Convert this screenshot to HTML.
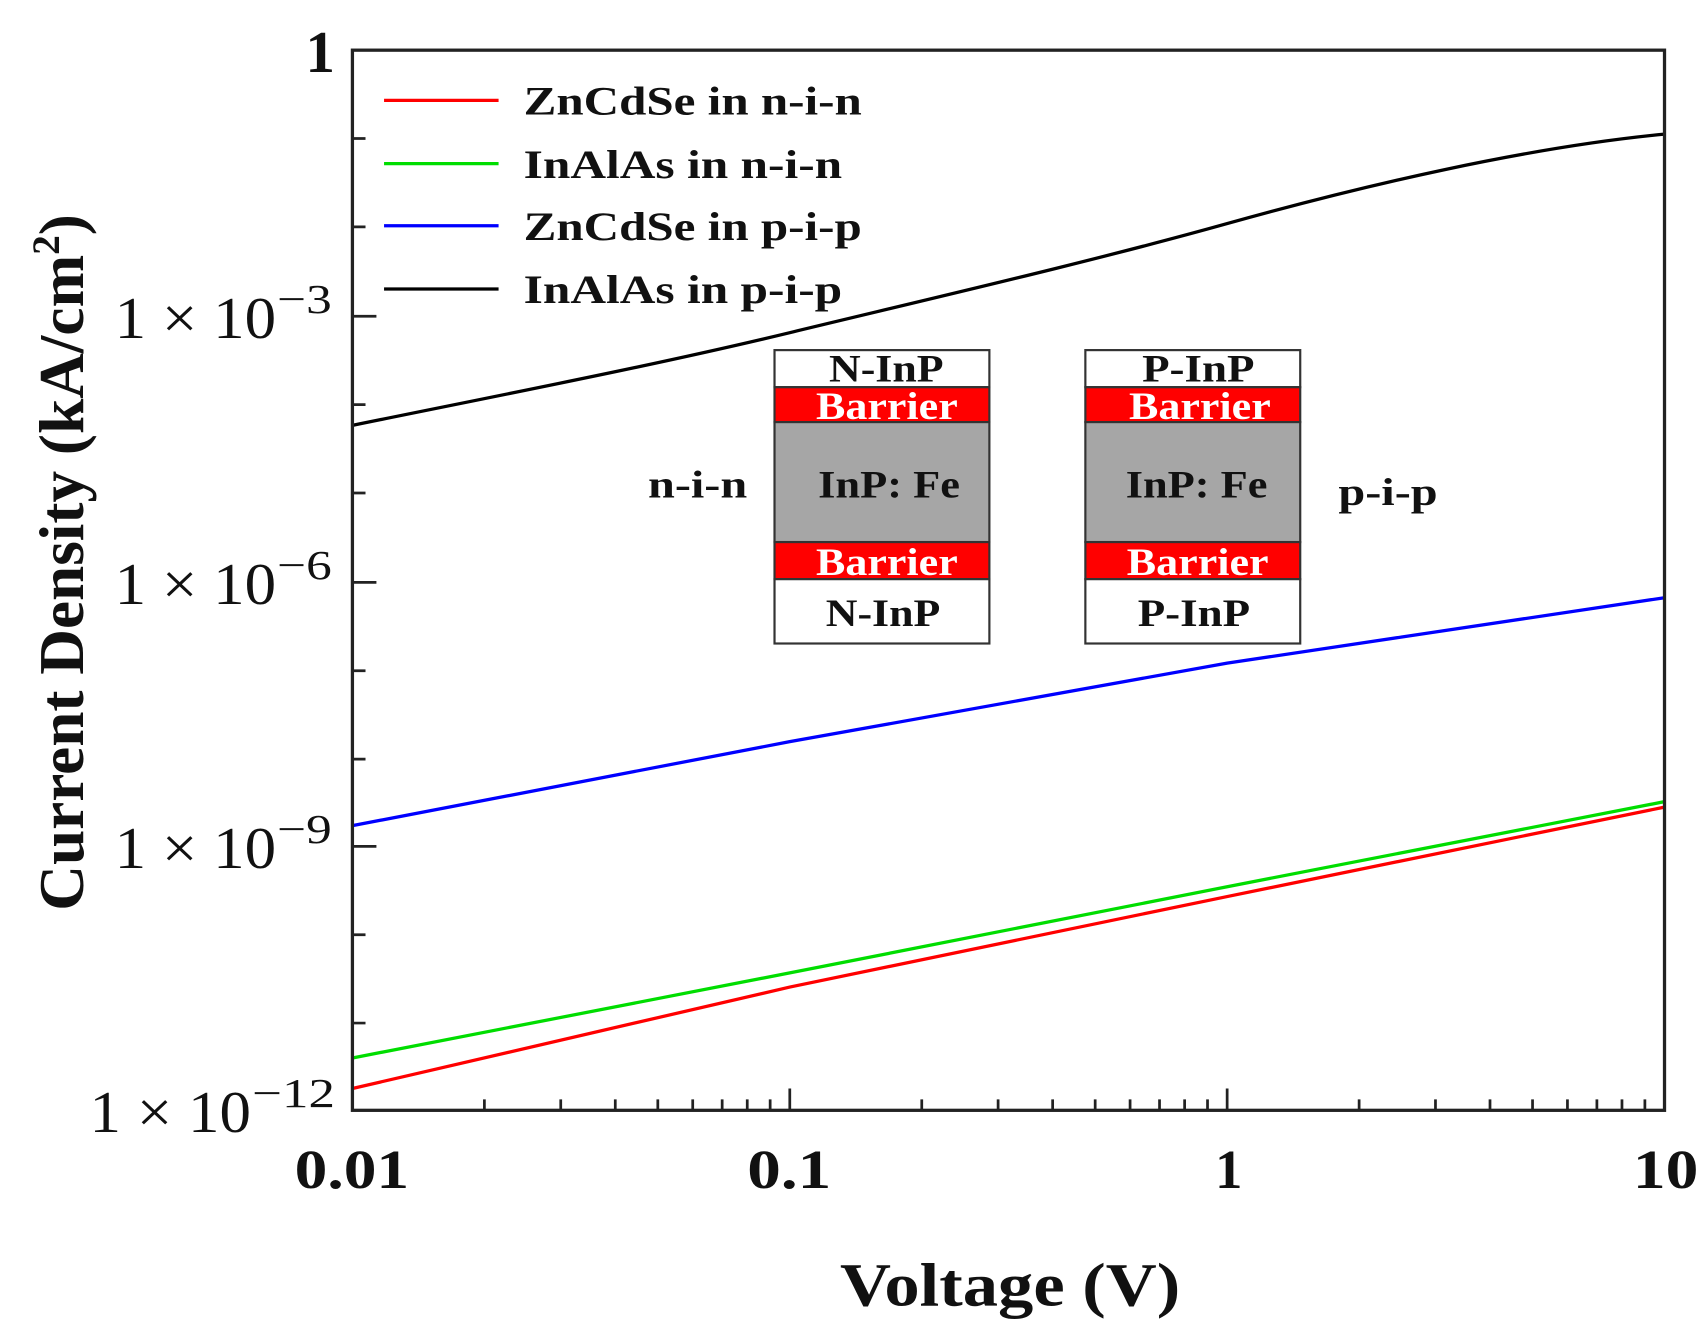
<!DOCTYPE html>
<html><head><meta charset="utf-8"><style>html,body{margin:0;padding:0;background:#fff}svg{display:block}</style></head>
<body>
<svg width="1705" height="1323" viewBox="0 0 1563 1213" xmlns="http://www.w3.org/2000/svg" font-family="'Liberation Serif',serif">
<rect width="1563" height="1213" fill="#fff"/>
<g stroke="#333" stroke-width="2">
<rect x="710" y="321" width="197" height="34" fill="#fff"/>
<rect x="710" y="355" width="197" height="32" fill="#ff0000"/>
<rect x="710" y="387" width="197" height="110" fill="#a6a6a6"/>
<rect x="710" y="497" width="197" height="34" fill="#ff0000"/>
<rect x="710" y="531" width="197" height="59" fill="#fff"/>
<rect x="995" y="321" width="197" height="34" fill="#fff"/>
<rect x="995" y="355" width="197" height="32" fill="#ff0000"/>
<rect x="995" y="387" width="197" height="110" fill="#a6a6a6"/>
<rect x="995" y="497" width="197" height="34" fill="#ff0000"/>
<rect x="995" y="531" width="197" height="59" fill="#fff"/>
</g>
<g font-weight="bold" font-size="36" fill="#111">
<text x="760" y="350" textLength="105" lengthAdjust="spacingAndGlyphs">N-InP</text>
<text x="748" y="384" textLength="130" lengthAdjust="spacingAndGlyphs" fill="#fff">Barrier</text>
<text x="750" y="456" textLength="130" lengthAdjust="spacingAndGlyphs">InP: Fe</text>
<text x="748" y="527" textLength="130" lengthAdjust="spacingAndGlyphs" fill="#fff">Barrier</text>
<text x="757" y="574" textLength="105" lengthAdjust="spacingAndGlyphs">N-InP</text>
<text x="1047" y="350" textLength="103" lengthAdjust="spacingAndGlyphs">P-InP</text>
<text x="1035" y="384" textLength="130" lengthAdjust="spacingAndGlyphs" fill="#fff">Barrier</text>
<text x="1032" y="456" textLength="130" lengthAdjust="spacingAndGlyphs">InP: Fe</text>
<text x="1033" y="527" textLength="130" lengthAdjust="spacingAndGlyphs" fill="#fff">Barrier</text>
<text x="1043" y="574" textLength="103" lengthAdjust="spacingAndGlyphs">P-InP</text>
<text x="594" y="456" textLength="91" lengthAdjust="spacingAndGlyphs">n-i-n</text>
<text x="1227" y="463" textLength="91" lengthAdjust="spacingAndGlyphs">p-i-p</text>
</g>
<g fill="none" stroke-width="3">
<path d="M323,390 C460,362 600,335 724,305 S1000,240 1125,205 S1400,135 1526,123" stroke="#000"/>
<path d="M323,757 L724,680 L1125,608 L1526,548" stroke="#0000ff"/>
<path d="M323,970 L724,892 L1125,813 L1526,735" stroke="#00dd00"/>
<path d="M323,998 L724,905 L1125,822 L1526,740" stroke="#ff0000"/>
</g>
<rect x="323" y="46" width="1203" height="972" fill="none" stroke="#222" stroke-width="3"/>
<g stroke-width="3">
<line x1="352" y1="92" x2="457" y2="92" stroke="#ff0000"/>
<line x1="352" y1="150" x2="457" y2="150" stroke="#00dd00"/>
<line x1="352" y1="207" x2="457" y2="207" stroke="#0000ff"/>
<line x1="352" y1="265" x2="457" y2="265" stroke="#000"/>
</g>
<g font-weight="bold" font-size="37" fill="#111">
<text x="480" y="105" textLength="310" lengthAdjust="spacingAndGlyphs">ZnCdSe in n-i-n</text>
<text x="480" y="163" textLength="292" lengthAdjust="spacingAndGlyphs">InAlAs in n-i-n</text>
<text x="480" y="220" textLength="310" lengthAdjust="spacingAndGlyphs">ZnCdSe in p-i-p</text>
<text x="480" y="278" textLength="292" lengthAdjust="spacingAndGlyphs">InAlAs in p-i-p</text>
</g>
<g font-size="54" fill="#111">
<text x="280" y="66" font-weight="bold" font-size="54">1</text>
<text x="105" y="310" textLength="148" lengthAdjust="spacingAndGlyphs">1 × 10</text><text x="254" y="287" font-size="38" textLength="50" lengthAdjust="spacingAndGlyphs">−3</text>
<text x="105" y="554" textLength="148" lengthAdjust="spacingAndGlyphs">1 × 10</text><text x="254" y="531" font-size="38" textLength="50" lengthAdjust="spacingAndGlyphs">−6</text>
<text x="105" y="796" textLength="148" lengthAdjust="spacingAndGlyphs">1 × 10</text><text x="254" y="773" font-size="38" textLength="50" lengthAdjust="spacingAndGlyphs">−9</text>
<text x="82" y="1038" textLength="148" lengthAdjust="spacingAndGlyphs">1 × 10</text><text x="231" y="1015" font-size="38" textLength="76" lengthAdjust="spacingAndGlyphs">−12</text>
</g>
<g font-size="50" font-weight="bold" fill="#111">
<text x="270" y="1089" textLength="105" lengthAdjust="spacingAndGlyphs">0.01</text>
<text x="685" y="1089" textLength="77" lengthAdjust="spacingAndGlyphs">0.1</text>
<text x="1114" y="1089">1</text>
<text x="1497" y="1089" textLength="60" lengthAdjust="spacingAndGlyphs">10</text>
</g>
<text x="770" y="1197" font-size="56" font-weight="bold" fill="#111" textLength="312" lengthAdjust="spacingAndGlyphs">Voltage (V)</text>
<text transform="translate(76,835) rotate(-90)" font-size="58" font-weight="bold" fill="#111">Current Density (kA/cm<tspan font-size="36" dy="-22">2</tspan><tspan dy="22">)</tspan></text>
<g stroke="#222" stroke-width="2.5">
<path d="M323,127h12M323,208h12M323,290h22M323,371h12M323,452h12M323,534h22M323,615h12M323,696h12M323,776h22M323,857h12M323,938h12"/>
<path d="M724,1018v-20M1125,1018v-20"/>
<path d="M444,1018v-10M514,1018v-10M564,1018v-10M603,1018v-10M635,1018v-10M662,1018v-10M685,1018v-10M706,1018v-10
M845,1018v-10M915,1018v-10M965,1018v-10M1004,1018v-10M1036,1018v-10M1063,1018v-10M1086,1018v-10M1107,1018v-10
M1246,1018v-10M1316,1018v-10M1366,1018v-10M1405,1018v-10M1437,1018v-10M1464,1018v-10M1487,1018v-10M1508,1018v-10"/>
</g>
</svg>
</body></html>
